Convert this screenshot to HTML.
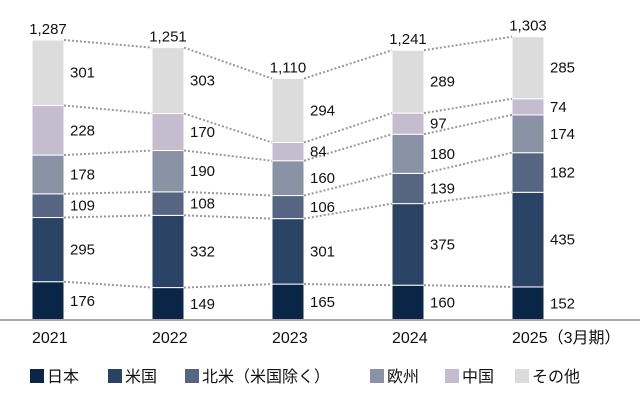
<!DOCTYPE html>
<html><head><meta charset="utf-8"><style>
body{margin:0;background:#fff;}
svg text{font-family:"Liberation Sans","Noto Sans CJK JP",sans-serif;fill:#111;}
</style></head><body>
<svg width="640" height="400" xmlns="http://www.w3.org/2000/svg">
<g id="bars"></g><g id="lines"></g><g id="labels"></g>
<line x1="0" y1="320" x2="640" y2="320" stroke="#aaa" stroke-width="2"/>
<g id="legend"></g>
</svg>
<script>
const categories=["2021","2022","2023","2024","2025"];
const catLabels=["2021","2022","2023","2024","2025（3月期）"];
const seriesNames=["日本","米国","北米（米国除く）","欧州","中国","その他"];
const japan=[176,149,165,160,152];
const us=[295,332,301,375,435];
const northAm=[109,108,106,139,182];
const europe=[178,190,160,180,174];
const china=[228,170,84,97,74];
const other=[301,303,294,289,285];
const totals=["1,287","1,251","1,110","1,241","1,303"];
const series=[japan,us,northAm,europe,china,other];
const colors=["#0b2546","#2a4263","#566581","#8a93a6","#c4bdd0","#dcdcdc"];
const NS="http://www.w3.org/2000/svg";
const base=320,scale=280/1287,bw=32;
const xL=i=>32+i*120;
const y=v=>base-v*scale;
function mk(t,a,p){const e=document.createElementNS(NS,t);for(const k in a)e.setAttribute(k,a[k]);p.appendChild(e);return e;}
const gb=document.getElementById('bars'),gl=document.getElementById('lines'),gt=document.getElementById('labels'),gg=document.getElementById('legend');
const cum=categories.map((c,i)=>{let s=0;return series.map(sr=>{s+=sr[i];return s;});});
categories.forEach((c,i)=>{
  let prev=0;
  series.forEach((sr,j)=>{
    const top=cum[i][j];
    const r=mk('rect',{x:xL(i),y:y(top),width:bw,height:y(prev)-y(top),fill:colors[j],stroke:'#fff','stroke-width':1},gb);
    
    
    const t=mk('text',{x:xL(i)+bw+6,y:(y(prev)+y(top))/2+5,'font-size':15},gt);
    t.textContent=sr[i];
    
    
    prev=top;
  });
  const tt=mk('text',{x:xL(i)+bw/2,y:y(cum[i][5])-6,'font-size':15,'text-anchor':'middle'},gt);
  tt.textContent=totals[i];
  
  
  const xt=mk('text',{x:xL(i),y:343,'font-size':16},gt);
  xt.textContent=catLabels[i];
  
  
  if(i<categories.length-1){
    for(let j=0;j<6;j++){
      const l=mk('line',{x1:xL(i)+bw,y1:y(cum[i][j]),x2:xL(i+1),y2:y(cum[i+1][j]),stroke:'#999','stroke-width':2,'stroke-dasharray':'2,2'},gl);
      
      
    }
  }
});
const lx=[30,108,185,370,445,515];
seriesNames.forEach((n,j)=>{
  const r=mk('rect',{x:lx[j],y:369,width:14,height:14,fill:colors[j]},gg);
  
  
  const t=mk('text',{x:lx[j]+17,y:382,'font-size':16},gg);
  t.textContent=n;
  
  
});
</script>
</body></html>
